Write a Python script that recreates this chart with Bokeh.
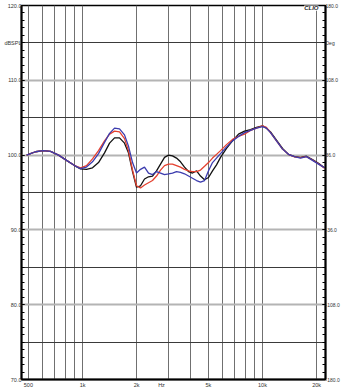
from bokeh.plotting import figure
from bokeh.models import Range1d, LinearAxis, FixedTicker, Grid, Label
from bokeh.embed import file_html
from bokeh.resources import INLINE

# ---- data ----
freqs = [489, 514, 548, 605, 664, 736, 815, 903, 975, 1052, 1136, 1227, 1325, 1413,
         1506, 1605, 1711, 1800, 1896, 1995, 2100, 2210, 2326, 2448, 2577, 2712, 2855,
         3005, 3162, 3328, 3503, 3687, 3881, 4085, 4300, 4525, 4763, 5012, 5275, 5553,
         5845, 6310, 6813, 7356, 7943, 8577, 9261, 10000, 10520, 11080, 11960, 12920,
         13940, 15060, 16260, 17550, 18950, 20470, 22100]

black_db = [100.0, 100.2, 100.45, 100.6, 100.5, 100.0, 99.3, 98.6, 98.15, 98.1, 98.3, 99.0,
            100.3, 101.6, 102.3, 102.3, 101.6, 100.3, 97.8, 95.7, 95.9, 96.8, 97.1, 97.2,
            97.9, 98.8, 99.7, 100.0, 99.9, 99.6, 99.1, 98.4, 97.8, 97.6, 97.9, 97.2, 96.7,
            97.0, 97.9, 98.7, 99.7, 100.9, 101.9, 102.8, 103.2, 103.4, 103.7, 103.9, 103.6,
            103.1, 102.0, 100.9, 100.1, 99.8, 99.7, 99.85, 99.4, 98.9, 98.3]

red_db = [100.0, 100.2, 100.45, 100.6, 100.5, 100.0, 99.3, 98.6, 98.3, 98.6, 99.5, 100.6,
          101.9, 102.8, 103.2, 103.1, 102.2, 100.6, 98.0, 95.9, 95.6, 96.0, 96.3, 96.6,
          97.2, 98.0, 98.6, 98.8, 98.8, 98.6, 98.4, 98.1, 97.9, 97.8, 97.8, 98.0, 98.5,
          99.0, 99.6, 100.1, 100.6, 101.4, 102.1, 102.5, 102.8, 103.3, 103.6, 103.9, 103.7,
          103.0, 101.9, 100.8, 100.1, 99.75, 99.65, 99.8, 99.35, 98.85, 98.25]

blue_db = [100.0, 100.2, 100.45, 100.6, 100.5, 100.0, 99.3, 98.6, 98.2, 98.4, 99.1, 100.2,
           101.7, 102.9, 103.6, 103.5, 102.7, 101.2, 99.0, 97.6, 98.1, 98.4, 97.6, 97.4,
           97.8, 97.6, 97.4, 97.5, 97.6, 97.8, 97.7, 97.5, 97.2, 96.9, 96.6, 96.4, 96.6,
           97.9, 99.0, 99.6, 100.2, 101.1, 101.9, 102.5, 103.0, 103.3, 103.6, 103.8, 103.6,
           103.0, 101.9, 100.8, 100.1, 99.8, 99.6, 99.8, 99.3, 98.8, 98.3]

x_ticks = [500, 1000, 2000, 2747, 5000, 10000, 20000]
x_labels = ["500", "1k", "2k", "Hz", "5k", "10k", "20k"]
x_grid = [500, 600, 700, 800, 900, 1000, 2000, 3000, 4000, 5000, 6000, 7000, 8000,
          9000, 10000, 20000]
y_ticks = [70, 80, 90, 100, 110, 115, 120]
y_labels = ["70.0", "80.0", "90.0", "100.0", "110.0", "dBSPL", "120.0"]
deg_ticks = [-180, -108, -36, 36, 108, 144, 180]
deg_labels = ["-180.0", "-108.0", "-36.0", "36.0", "108.0", "Deg", "180.0"]

FONT = "Liberation Sans"
LABEL_COLOR = "#333333"

p = figure(width=342, height=390, x_axis_type="log",
           x_range=(458, 22390), y_range=(70, 120),
           output_backend="svg", toolbar_location=None,
           min_border_left=21, min_border_right=17,
           min_border_top=5, min_border_bottom=10)
p.background_fill_color = "white"
p.border_fill_color = "white"
p.outline_line_color = "black"
p.outline_line_width = 1.5

# bottom axis
xa = p.xaxis[0]
xa.ticker = FixedTicker(ticks=x_ticks)
xa.major_label_overrides = {t: l for t, l in zip(x_ticks, x_labels)}
xa.major_tick_in = 0
xa.major_tick_out = 0
xa.minor_tick_in = 0
xa.minor_tick_out = 0
xa.major_label_standoff = 2
xa.major_label_text_font = FONT
xa.major_label_text_font_size = "5.5px"
xa.major_label_text_color = LABEL_COLOR
xa.axis_line_width = 2
xa.axis_line_color = "black"

# left axis
ya = p.yaxis[0]
ya.ticker = FixedTicker(ticks=y_ticks, minor_ticks=list(range(70, 121)))
ya.major_label_overrides = {t: l for t, l in zip(y_ticks, y_labels)}
ya.major_tick_in = 3
ya.major_tick_out = 0
ya.minor_tick_in = 3
ya.minor_tick_out = 0
ya.major_label_standoff = 0
ya.major_label_text_font = FONT
ya.major_label_text_font_size = "5.5px"
ya.major_label_text_color = LABEL_COLOR
ya.axis_line_width = 2
ya.axis_line_color = "black"

# right axis (degrees)
p.extra_y_ranges = {"deg": Range1d(-180, 180)}
ra = LinearAxis(y_range_name="deg",
                ticker=FixedTicker(ticks=deg_ticks,
                                   minor_ticks=[-180 + 7.2 * i for i in range(51)]))
ra.major_label_overrides = {t: l for t, l in zip(deg_ticks, deg_labels)}
ra.major_tick_in = 3
ra.major_tick_out = 0
ra.minor_tick_in = 3
ra.minor_tick_out = 0
ra.major_label_standoff = 0
ra.major_label_text_font = FONT
ra.major_label_text_font_size = "5px"
ra.major_label_text_color = LABEL_COLOR
ra.axis_line_width = 2
ra.axis_line_color = "black"
p.add_layout(ra, "right")

# grids
p.xgrid.ticker = FixedTicker(ticks=x_grid)
p.xgrid.grid_line_color = "#707070"
p.xgrid.grid_line_width = 1
p.ygrid.ticker = FixedTicker(ticks=[80, 90, 100, 110])
p.ygrid.grid_line_color = "#b4b4b4"
p.ygrid.grid_line_width = 2
g2 = Grid(dimension=1, ticker=FixedTicker(ticks=[75, 85, 95, 105, 115]),
          grid_line_color="#3a3a3a", grid_line_width=1)
p.add_layout(g2)

# curves
p.line(freqs, black_db, line_color="#111111", line_width=1.3)
p.line(freqs, red_db, line_color="#e5412f", line_width=1.3)
p.line(freqs, blue_db, line_color="#3c3cae", line_width=1.3)

# logo
p.add_layout(Label(x=20470, y=119.7, text="CLIO", text_align="right",
                   text_baseline="middle", text_font=FONT, text_font_size="6px",
                   text_font_style="bold italic", text_color="#222222",
                   background_fill_color="white"))

open("out.html", "w").write(file_html(p, INLINE))
